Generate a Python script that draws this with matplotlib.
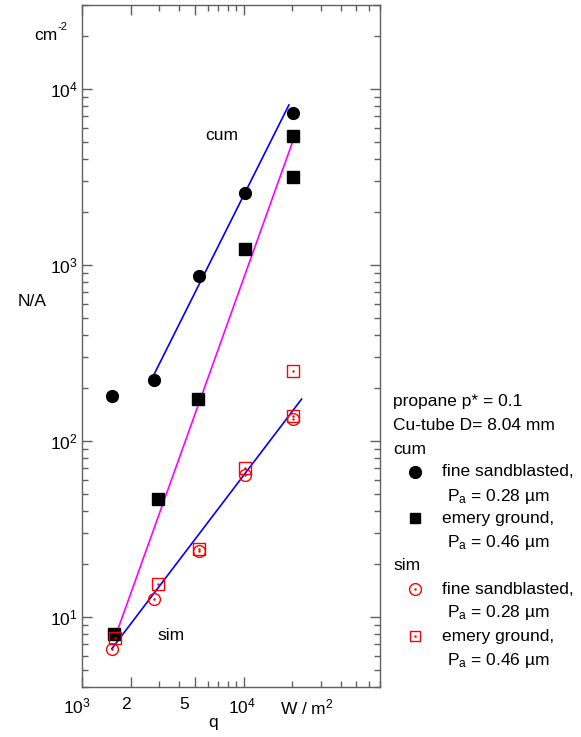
import matplotlib
matplotlib.use("Agg")
import matplotlib.pyplot as plt
import matplotlib.transforms as mtransforms
from matplotlib.lines import Line2D

plt.rcParams['font.family'] = ['Liberation Sans', 'DejaVu Sans']
plt.rcParams['mathtext.fontset'] = 'custom'
plt.rcParams['mathtext.rm'] = 'Liberation Sans'
plt.rcParams['mathtext.it'] = 'Liberation Sans:italic'

# heat flux q in W/m^2 and nucleation site density N/A in cm^-2
q_cum_fine = [1530, 2790, 5290, 10230, 20300]
na_cum_fine = [180, 222, 866, 2550, 7280]
q_cum_emery = [1580, 2940, 5250, 10200, 20300, 20300]
na_cum_emery = [8.0, 46.8, 173, 1233, 3180, 5410]
q_sim_fine = [1530, 2790, 5290, 10200, 20300]
na_sim_fine = [6.6, 12.7, 23.8, 64, 133]
q_sim_emery = [1600, 2940, 5290, 10200, 20300, 20300]
na_sim_emery = [7.6, 15.3, 24.2, 70.5, 139, 251]

# fitted power-law lines (end points)
fit_cum_fine_q = [2630, 19100]
fit_cum_fine_na = [214, 8110]
fit_cum_emery_q = [1620, 20400]
fit_cum_emery_na = [7.9, 5180]
fit_sim_q = [1530, 22900]
fit_sim_na = [6.6, 173]

W, H = 581, 737
fig = plt.figure(figsize=(W / 100, H / 100), dpi=100)
ax = fig.add_axes([82 / W, 1 - 687 / H, 298 / W, 682 / H])

grey = '#606060'
ax.set_xscale('log')
ax.set_yscale('log')
ax.set_xlim(1e3, 7e4)
ax.set_ylim(4, 3e4)

ax.plot(fit_cum_fine_q, fit_cum_fine_na, color='#0000ff', lw=1.2, zorder=2)
ax.plot(fit_cum_emery_q, fit_cum_emery_na, color='#ff00ff', lw=1.2, zorder=2)
ax.plot(fit_sim_q, fit_sim_na, color='#0000ff', lw=1.2, zorder=2)

ax.plot(q_cum_fine, na_cum_fine, 'o', color='black', ms=8.5, ls='none', zorder=3)
ax.plot(q_cum_emery, na_cum_emery, 's', color='black', ms=8, ls='none', zorder=3)
ax.plot(q_sim_fine, na_sim_fine, 'o', mfc='none', mec='red', mew=1.0, ms=8.5,
        ls='none', zorder=4)
ax.plot(q_sim_fine, na_sim_fine, '.', color='red', ms=1.5, ls='none', zorder=4)
ax.plot(q_sim_emery, na_sim_emery, 's', mfc='none', mec='red', mew=1.0, ms=8,
        ls='none', zorder=4)
ax.plot(q_sim_emery, na_sim_emery, '.', color='red', ms=1.5, ls='none', zorder=4)

for s in ax.spines.values():
    s.set_color(grey)
    s.set_linewidth(1.0)
ax.tick_params(which='both', direction='in', top=True, right=True, color=grey,
               labelsize=12.5)
ax.tick_params(which='major', length=7, width=1.0)
ax.tick_params(which='minor', length=4, width=1.0)

ax.set_xticks([1e3, 2e3, 5e3, 1e4],
              labels=[r'$10^3$', '2', '5', r'$10^4$'])
ax.tick_params(axis='x', pad=7)
for lab, dx in zip(ax.get_xticklabels(), [-5, -5, -11, -2]):
    lab.set_transform(lab.get_transform() +
                      mtransforms.ScaledTranslation(dx / 100, 0, fig.dpi_scale_trans))
ax.set_yticks([1e1, 1e2, 1e3, 1e4],
              labels=[r'$10^1$', r'$10^2$', r'$10^3$', r'$10^4$'])
ax.tick_params(axis='y', pad=3)

def fx(px):
    return px / W

def fy(py):
    return 1 - py / H

fs = 12.5
fig.text(fx(307), fy(707), r'W / m$^2$', fontsize=fs, ha='center', va='center')
fig.text(fx(213), fy(723), 'q', fontsize=fs, ha='center', va='center')
fig.text(fx(32), fy(302), 'N/A', fontsize=fs, ha='center', va='center')
fig.text(fx(34), fy(35), 'cm', fontsize=fs, ha='left', va='center')
fig.text(fx(57.5), fy(27), '-2', fontsize=8, ha='left', va='center')
fig.text(fx(222), fy(136), 'cum', fontsize=fs, ha='center', va='center')
fig.text(fx(171), fy(636), 'sim', fontsize=fs, ha='center', va='center')

# legend built from text and marker glyphs
x_head, x_mark, x_txt, x_pa = 393, 415, 442, 447
rows = [
    (402, x_head, 'propane p* = 0.1', None),
    (425, x_head, 'Cu-tube D= 8.04 mm', None),
    (449, x_head, 'cum', None),
    (472, x_txt, 'fine sandblasted,', 'cum_o'),
    (496, x_pa, r'P$_\mathrm{a}$ = 0.28 µm', None),
    (518, x_txt, 'emery ground,', 'cum_s'),
    (542, x_pa, r'P$_\mathrm{a}$ = 0.46 µm', None),
    (565, x_head, 'sim', None),
    (589, x_txt, 'fine sandblasted,', 'sim_o'),
    (612, x_pa, r'P$_\mathrm{a}$ = 0.28 µm', None),
    (636, x_txt, 'emery ground,', 'sim_s'),
    (660, x_pa, r'P$_\mathrm{a}$ = 0.46 µm', None),
]
marker_styles = {
    'cum_o': dict(marker='o', color='black', ms=8.5),
    'cum_s': dict(marker='s', color='black', ms=7.5),
    'sim_o': dict(marker='o', mfc='none', mec='red', mew=1.0, ms=8.5),
    'sim_s': dict(marker='s', mfc='none', mec='red', mew=1.0, ms=7.5),
}
for py, px, txt, mk in rows:
    fig.text(fx(px), fy(py), txt, fontsize=fs, ha='left', va='center')
    if mk:
        fig.add_artist(Line2D([fx(x_mark)], [fy(py)], transform=fig.transFigure,
                              ls='none', **marker_styles[mk]))
        if mk.startswith('sim'):
            fig.add_artist(Line2D([fx(x_mark)], [fy(py)], transform=fig.transFigure,
                                  ls='none', marker='.', color='red', ms=1.5))

fig.savefig('out.png', dpi=100)
